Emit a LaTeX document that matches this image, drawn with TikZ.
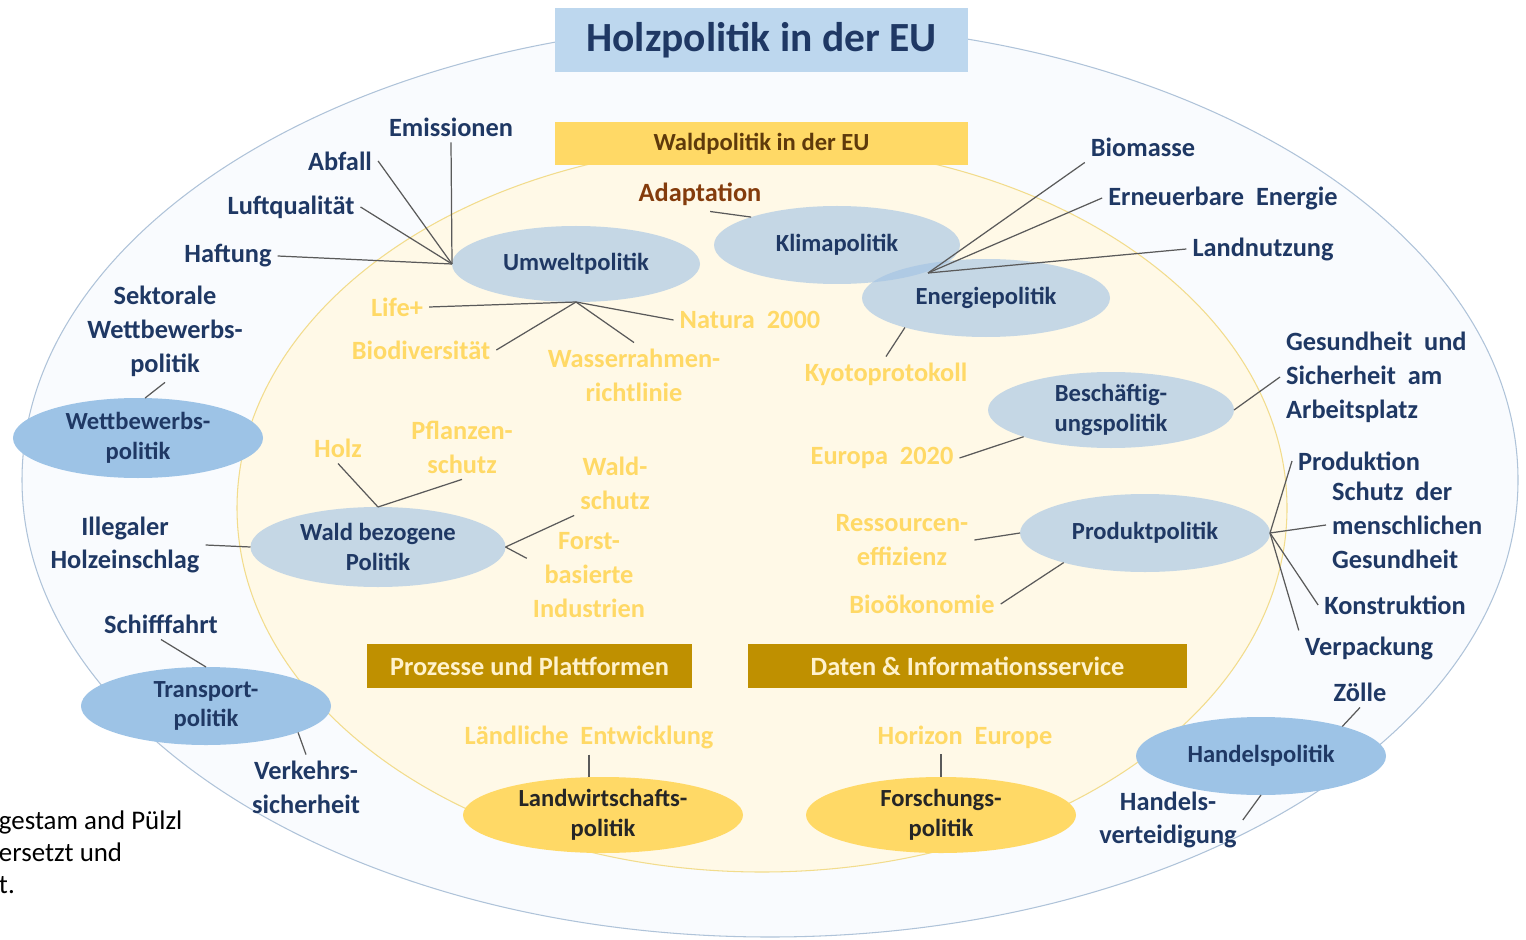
\documentclass[tikz,border=0pt]{standalone}
\usepackage{fontspec}
\setmainfont{Carlito}
\usetikzlibrary{shapes.geometric}

\begin{document}
\begin{tikzpicture}[
  font=\bfseries,
  every node/.style={inner sep=0pt, outer sep=0pt},
  lbl/.style={inner sep=3.5pt, align=center, text=NavyTxt, font={\fontsize{15}{19.3}\selectfont\bfseries}},
  goldlbl/.style={lbl, text=GoldTxt},
  ell/.style={ellipse, minimum width=5cm, minimum height=1.56cm, align=center, text=NavyTxt, font={\fontsize{14}{17}\selectfont\bfseries}},
  paleell/.style={ell, fill=PaleEll, fill opacity=0.62, text opacity=1},
  darkell/.style={ell, fill=DarkEll},
  goldell/.style={ell, fill=GoldEll, text=black!85},
  link/.style={draw=LinkGrey, line width=0.7pt},
]

% ── colors ──
\definecolor{NavyTxt}{HTML}{1F3864}
\definecolor{GoldTxt}{HTML}{FFD966}
\definecolor{BrownTxt}{HTML}{843C0C}
\definecolor{TitleBg}{HTML}{BDD7EE}
\definecolor{WaldBg}{HTML}{FFD966}
\definecolor{WaldTxt}{HTML}{5E3A0B}
\definecolor{BarBg}{HTML}{BF9000}
\definecolor{BarTxt}{HTML}{FFF2CC}
\definecolor{OuterBg}{HTML}{F9FBFE}
\definecolor{OuterFrame}{HTML}{AFC3D9}
\definecolor{InnerBg}{HTML}{FFF9E7}
\definecolor{InnerFrame}{HTML}{F2DC8C}
\definecolor{PaleEll}{HTML}{A3C3E4}
\definecolor{DarkEll}{HTML}{9DC3E6}
\definecolor{GoldEll}{HTML}{FFD966}
\definecolor{LinkGrey}{HTML}{5A5A5A}

\useasboundingbox (0,0) rectangle (30.52,-18.80);

% ── Holzpolitik (outer) ──
\fill[OuterBg] (15.40,-9.60) ellipse [x radius=14.96, y radius=9.14];
\draw[OuterFrame, line width=0.6pt] (15.40,-9.60) ellipse [x radius=14.96, y radius=9.14];
\fill[TitleBg] (11.10,-0.16) rectangle (19.36,-1.44);
\node[text=NavyTxt, font={\fontsize{23.6}{28}\selectfont\bfseries}] (titel) at (15.23,-0.80) {Holzpolitik in der EU};

% ── Waldpolitik (inner) ──
\fill[InnerBg] (15.24,-10.16) ellipse [x radius=10.50, y radius=7.28];
\draw[InnerFrame, line width=0.6pt] (15.24,-10.16) ellipse [x radius=10.50, y radius=7.28];
\fill[WaldBg] (11.10,-2.44) rectangle (19.36,-3.30);
\node[text=WaldTxt, font={\fontsize{14}{17}\selectfont\bfseries}] (waldtitel) at (15.23,-2.87) {Waldpolitik in der EU};

\fill[BarBg] (7.34,-12.88) rectangle (13.84,-13.76);
\node[text=BarTxt, font={\fontsize{15}{18}\selectfont\bfseries}] (prozesse) at (10.59,-13.32) {Prozesse und Plattformen};
\fill[BarBg] (14.96,-12.88) rectangle (23.74,-13.76);
\node[text=BarTxt, font={\fontsize{15}{18}\selectfont\bfseries}] (daten) at (19.35,-13.32) {Daten \& Informationsservice};

% ── policy ellipses ──
\node[paleell, minimum width=4.96cm, minimum height=1.52cm] (umwelt) at (11.52,-5.28) {Umweltpolitik};
\node[paleell, minimum width=4.92cm] (klima) at (16.74,-4.90) {Klimapolitik};
\node[paleell, minimum width=4.96cm] (energie) at (19.72,-5.96) {Energiepolitik};
\node[paleell, minimum width=4.92cm, minimum height=1.52cm] (besch) at (22.22,-8.20) {Beschäftig-\\ungspolitik};
\node[paleell] (produkt) at (22.90,-10.66) {Produktpolitik};
\node[paleell, minimum width=5.10cm, minimum height=1.60cm] (wald) at (7.56,-10.94) {Wald bezogene\\Politik};
\node[darkell, minimum height=1.60cm] (wettb) at (2.76,-8.76) {Wettbewerbs-\\politik};
\node[darkell] (transport) at (4.12,-14.12) {Transport-\\politik};
\node[darkell] (handel) at (25.22,-15.12) {Handelspolitik};
\node[goldell, minimum width=5.60cm, minimum height=1.52cm] (landw) at (12.06,-16.30) {Landwirtschafts-\\politik};
\node[goldell, minimum width=5.40cm, minimum height=1.52cm] (forsch) at (18.82,-16.30) {Forschungs-\\politik};

% ── outer labels ──
\node[lbl] (emis) at (9.02,-2.54) {Emissionen};
\node[lbl] (abfall) at (6.80,-3.22) {Abfall};
\node[lbl] (luft) at (5.82,-4.14) {Luftqualität};
\node[lbl] (haftung) at (4.56,-5.12) {Haftung};
\node[lbl] (sektoral) at (3.30,-6.62) {Sektorale\\Wettbewerbs-\\politik};
\node[lbl] (biomasse) at (22.86,-2.94) {Biomasse};
\node[lbl] (erneuer) at (24.46,-3.96) {Erneuerbare~ Energie};
\node[lbl] (land) at (25.26,-4.98) {Landnutzung};
\node[lbl, anchor=west, align=left] (gesund) at (25.60,-7.54) {Gesundheit~ und\\Sicherheit~ am\\Arbeitsplatz};
\node[lbl, anchor=west] (produktion) at (25.84,-9.22) {Produktion};
\node[lbl, anchor=west, align=left] (schutz) at (26.52,-10.50) {Schutz~ der\\menschlichen\\Gesundheit};
\node[lbl] (konstr) at (27.90,-12.10) {Konstruktion};
\node[lbl] (verpack) at (27.38,-12.96) {Verpackung};
\node[lbl] (zoelle) at (27.20,-13.84) {Zölle};
\node[lbl] (handelsv) at (23.36,-16.40) {Handels-\\verteidigung};
\node[lbl] (illegal) at (2.50,-10.90) {Illegaler\\Holzeinschlag};
\node[lbl] (schiff) at (3.22,-12.48) {Schifffahrt};
\node[lbl] (verkehr) at (6.12,-15.74) {Verkehrs-\\sicherheit};

% ── inner labels ──
\node[lbl, text=BrownTxt] (adapt) at (14.00,-3.88) {Adaptation};
\node[goldlbl] (life) at (7.94,-6.14) {Life+};
\node[goldlbl] (natura) at (15.00,-6.40) {Natura~ 2000};
\node[goldlbl] (biodiv) at (8.42,-7.00) {Biodiversität};
\node[goldlbl] (wasser) at (12.68,-7.50) {Wasserrahmen-\\richtlinie};
\node[goldlbl] (kyoto) at (17.72,-7.48) {Kyotoprotokoll};
\node[goldlbl] (holz) at (6.76,-8.96) {Holz};
\node[goldlbl] (pflanz) at (9.24,-8.94) {Pflanzen-\\schutz};
\node[goldlbl] (waldschutz) at (12.30,-9.66) {Wald-\\schutz};
\node[goldlbl] (forst) at (11.78,-11.50) {Forst-\\basierte\\Industrien};
\node[goldlbl] (europa) at (17.64,-9.16) {Europa~ 2020};
\node[goldlbl] (ressource) at (18.04,-10.80) {Ressourcen-\\effizienz};
\node[goldlbl] (biooek) at (18.44,-12.08) {Bioökonomie};
\node[goldlbl] (laendlich) at (11.78,-14.74) {Ländliche~ Entwicklung};
\node[goldlbl] (horizon) at (19.30,-14.74) {Horizon~ Europe};

% ── connectors ──
\draw[link] (emis.south) -- (umwelt.west);
\draw[link] (abfall.east) -- (umwelt.west);
\draw[link] (luft.east) -- (umwelt.west);
\draw[link] (haftung.east) -- (umwelt.west);
\draw[link] (life.east) -- (umwelt.south);
\draw[link] (biodiv.east) -- (umwelt.south);
\draw[link] (wasser.north) -- (umwelt.south);
\draw[link] (natura.west) -- (umwelt.south);

\draw[link] (adapt.300) -- (klima.162);

\coordinate (eHub) at (18.56,-5.46);
\draw[link] (biomasse.south west) -- (eHub);
\draw[link] (erneuer.west) -- (eHub);
\draw[link] (land.west) -- (eHub);
\draw[link] (kyoto.north) -- (energie.200);

\draw[link] (gesund.west) -- (besch.east);
\draw[link] (europa.east) -- (besch.197);

\draw[link] (ressource.east) -- (produkt.west);
\draw[link] (biooek.east) -- (produkt.200);
\draw[link] (produktion.west) -- (produkt.east);
\draw[link] (schutz.west) -- (produkt.east);
\draw[link] (konstr.west) -- (produkt.east);
\draw[link] (verpack.north west) -- (produkt.east);

\draw[link] (holz.south) -- (wald.north);
\draw[link] (pflanz.south) -- (wald.north);
\draw[link] (waldschutz.south west) -- (wald.east);
\draw[link] (forst.165) -- (wald.east);
\draw[link] (illegal.east) -- (wald.west);

\draw[link] (sektoral.south) -- (wettb.80);
\draw[link] (schiff.south) -- (transport.north);
\draw[link] (verkehr.north) -- (transport.-16);
\draw[link] (zoelle.south) -- (handel.20);
\draw[link] (handelsv.east) -- (handel.south);

\draw[link] (laendlich.south) -- (laendlich.south |- landw.north);
\draw[link] (horizon.south -| forsch.north) -- (forsch.north);

% ── source note (cut at the left edge) ──
\node[anchor=west, align=left, font={\fontsize{15.3}{18.1}\selectfont\mdseries}] (quelle) at (-0.02,-17.04) {gestam and Pülzl\\ersetzt und\\t.};

\end{tikzpicture}
\end{document}
